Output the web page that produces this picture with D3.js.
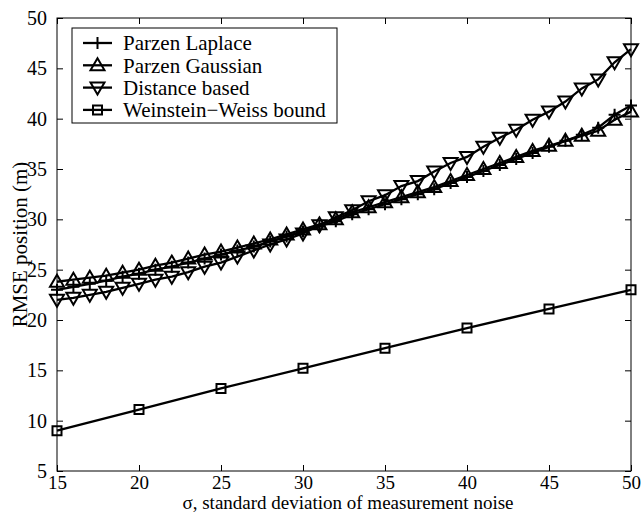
<!DOCTYPE html>
<html>
<head>
<meta charset="utf-8">
<script src="https://cdn.jsdelivr.net/npm/d3@7"></script>
<style>
  body { margin: 0; background: #fff; }
  text { font-family: "Liberation Serif", "Times New Roman", serif; fill: #000; }
</style>
</head>
<body>
<div id="chart"></div>
<script>
// sigma values (x axis)
const sigma = [15, 16, 17, 18, 19, 20, 21, 22, 23, 24, 25, 26, 27, 28, 29, 30, 31, 32,
               33, 34, 35, 36, 37, 38, 39, 40, 41, 42, 43, 44, 45, 46, 47, 48, 49, 50];

// RMSE
const parzenLaplace = [23.0, 23.3, 23.6, 23.9, 24.3, 24.6, 25.0, 25.3, 25.7, 26.1, 26.5, 26.9,
                       27.3, 27.8, 28.3, 28.8, 29.3, 29.8, 30.5, 31.0, 31.5, 32.0, 32.5, 33.0,
                       33.6, 34.2, 34.8, 35.4, 36.0, 36.6, 37.2, 37.8, 38.4, 39.1, 40.4, 41.3];
const parzenGaussian = [23.8, 24.0, 24.2, 24.4, 24.7, 25.0, 25.4, 25.7, 26.1, 26.5, 26.8, 27.2,
                        27.6, 28.0, 28.5, 29.0, 29.5, 30.0, 30.7, 31.2, 31.7, 32.2, 32.7, 33.2,
                        33.8, 34.4, 35.0, 35.6, 36.2, 36.8, 37.3, 37.8, 38.3, 38.8, 39.9, 40.7];
const distanceBased = [22.0, 22.2, 22.5, 22.8, 23.2, 23.6, 24.0, 24.3, 24.75, 25.3, 25.7, 26.3,
                       26.9, 27.5, 28.0, 28.6, 29.4, 30.2, 30.9, 31.8, 32.4, 33.3, 33.8, 34.75,
                       35.6, 36.2, 37.2, 38.1, 38.9, 39.9, 40.7, 41.7, 43.0, 43.9, 45.6, 46.9];

const wwSigma = [15, 20, 25, 30, 35, 40, 45, 50];
const wwBound = [9.0, 11.1, 13.2, 15.2, 17.2, 19.2, 21.1, 23.0];

const xTicks = [15, 20, 25, 30, 35, 40, 45, 50];
const yTicks = [5, 10, 15, 20, 25, 30, 35, 40, 45, 50];
const legendNames = ["Parzen Laplace", "Parzen Gaussian", "Distance based", "Weinstein\u2212Weiss bound"];

const W = 643, H = 514;
const margin = { top: 18, right: 12, bottom: 43, left: 57 };
const width = W - margin.left - margin.right;
const height = H - margin.top - margin.bottom;

const svg = d3.select("#chart").append("svg")
  .attr("width", W).attr("height", H);
const g = svg.append("g")
  .attr("transform", `translate(${margin.left},${margin.top})`);

const x = d3.scaleLinear().domain([15, 50]).range([0, width]);
const y = d3.scaleLinear().domain([5, 50]).range([height, 0]);

// marker shapes
const markerPath = {
  plus: "M-6,0H6M0,-6V6",
  up: "M0,-7L7,5L-7,5Z",
  down: "M0,7L7,-5L-7,-5Z",
  square: "M-4.5,-4.5H4.5V4.5H-4.5Z"
};

// axes (inward ticks, box on)
const tickLen = 6;
const fontSize = 19;
g.append("g").attr("transform", `translate(0,${height})`)
  .call(d3.axisBottom(x).tickValues(xTicks).tickSizeInner(-tickLen).tickSizeOuter(0))
  .call(a => a.select(".domain").remove())
  .call(a => a.selectAll("text").style("font-size", "19px").attr("y", 18).attr("dy", null));
g.append("g")
  .call(d3.axisTop(x).tickValues(xTicks).tickSizeInner(-tickLen).tickSizeOuter(0).tickFormat(""))
  .call(a => a.select(".domain").remove());
g.append("g")
  .call(d3.axisLeft(y).tickValues(yTicks).tickSizeInner(-tickLen).tickSizeOuter(0))
  .call(a => a.select(".domain").remove())
  .call(a => a.selectAll("text").style("font-size", "20px").attr("x", -10));
g.append("g").attr("transform", `translate(${width},0)`)
  .call(d3.axisRight(y).tickValues(yTicks).tickSizeInner(-tickLen).tickSizeOuter(0).tickFormat(""))
  .call(a => a.select(".domain").remove());

g.append("rect")
  .attr("width", width).attr("height", height)
  .attr("fill", "none").attr("stroke", "#000").attr("stroke-width", 1);

// axis titles
svg.append("text")
  .attr("x", margin.left + width / 2 + 4).attr("y", 509)
  .attr("text-anchor", "middle").style("font-size", fontSize + "px")
  .text("\u03c3, standard deviation of measurement noise");
svg.append("text")
  .attr("transform", `translate(27,${margin.top + height / 2}) rotate(-90)`)
  .attr("text-anchor", "middle").style("font-size", "21px")
  .text("RMSE position (m)");

// series
const series = [
  { xs: sigma, ys: parzenLaplace, marker: "plus" },
  { xs: sigma, ys: parzenGaussian, marker: "up" },
  { xs: sigma, ys: distanceBased, marker: "down" },
  { xs: wwSigma, ys: wwBound, marker: "square" }
];

const line = d3.line().x(d => x(d[0])).y(d => y(d[1]));

series.forEach(s => {
  const pts = s.xs.map((v, i) => [v, s.ys[i]]);
  g.append("path").datum(pts)
    .attr("d", line)
    .attr("fill", "none").attr("stroke", "#000").attr("stroke-width", 2.3);
  g.selectAll(null).data(pts).enter().append("path")
    .attr("transform", d => `translate(${x(d[0])},${y(d[1])})`)
    .attr("d", markerPath[s.marker])
    .attr("fill", "none").attr("stroke", "#000").attr("stroke-width", 2);
});

// legend
const legend = svg.append("g").attr("transform", "translate(72,28)");
legend.append("rect")
  .attr("width", 265).attr("height", 95)
  .attr("fill", "#fff").attr("stroke", "#000").attr("stroke-width", 1);
const item = legend.selectAll(".legend-item")
  .data(series.map((s, i) => ({ name: legendNames[i], marker: s.marker })))
  .enter().append("g")
  .attr("class", "legend-item")
  .attr("transform", (d, i) => `translate(0,${15 + i * 22.3})`);
item.append("line")
  .attr("x1", 11).attr("x2", 40)
  .attr("stroke", "#000").attr("stroke-width", 2.3);
item.append("path")
  .attr("transform", "translate(25.5,0)")
  .attr("d", d => markerPath[d.marker])
  .attr("fill", "none").attr("stroke", "#000").attr("stroke-width", 2);
item.append("text")
  .attr("x", 51).attr("dy", "0.35em")
  .style("font-size", "21px")
  .text(d => d.name);
</script>
</body>
</html>
